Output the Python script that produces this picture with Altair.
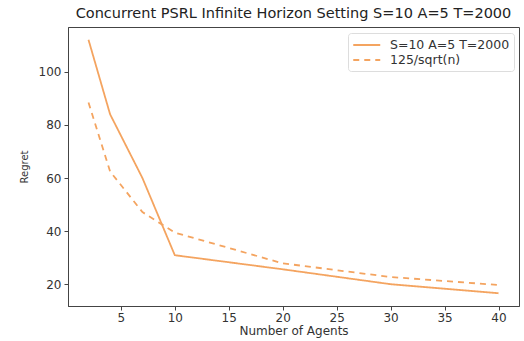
import altair as alt
import pandas as pd

agents = [2, 4, 7, 10, 20, 30, 40]
regret = [112, 84, 60, 31, 25.7, 20.1, 16.7]
bound = [88.4, 62.5, 47.2, 39.5, 27.95, 22.8, 19.8]
series_names = ["S=10 A=5 T=2000", "125/sqrt(n)"]

rows = []
for n, r in zip(agents, regret):
    rows.append({"n": n, "v": r, "s": series_names[0]})
for n, b in zip(agents, bound):
    rows.append({"n": n, "v": b, "s": series_names[1]})
df = pd.DataFrame(rows)

col = "#F4A460"
font = "DejaVu Sans"

chart = alt.Chart(df).mark_line(strokeWidth=1.8).encode(
    x=alt.X("n:Q", scale=alt.Scale(domain=[0.1, 41.9], nice=False, zero=False),
            axis=alt.Axis(values=[5, 10, 15, 20, 25, 30, 35, 40], title="Number of Agents",
                          grid=False, tickSize=4, labelPadding=2, titlePadding=2,
                          titleFontSize=12, labelFontSize=12)),
    y=alt.Y("v:Q", scale=alt.Scale(domain=[11.9, 116.8], nice=False, zero=False),
            axis=alt.Axis(values=[20, 40, 60, 80, 100], title="Regret", grid=False,
                          tickSize=4, labelPadding=3, titlePadding=9,
                          titleFontSize=10, labelFontSize=12)),
    color=alt.Color("s:N", scale=alt.Scale(domain=series_names, range=[col, col]),
                    legend=alt.Legend(title=None)),
    strokeDash=alt.StrokeDash("s:N", scale=alt.Scale(domain=series_names, range=[[1, 0], [6, 5]]),
                              legend=alt.Legend(title=None)),
).properties(
    width=451, height=279,
    title=alt.TitleParams("Concurrent PSRL Infinite Horizon Setting S=10 A=5 T=2000",
                          fontSize=14.5, fontWeight="normal", font=font, color="#222",
                          anchor="middle", offset=6),
    autosize=alt.AutoSizeParams(type="none"),
    padding={"left": 68, "top": 27, "right": 5, "bottom": 35},
).configure_view(
    stroke="#444", strokeWidth=1
).configure_axis(
    labelFont=font, titleFont=font, labelColor="#333", titleColor="#333",
    domainColor="#444", tickColor="#444", titleFontWeight="normal"
).configure_legend(
    orient="none", legendX=280, legendY=6, labelFont=font, labelFontSize=12.5,
    labelColor="#333", symbolType="M-1,0H3", symbolSize=182, symbolStrokeWidth=1.8,
    strokeColor="#ddd", fillColor="white", padding=4, cornerRadius=3, rowPadding=0,
    labelOffset=22, labelLimit=300
)

chart.save("out.html", embed_options={"renderer": "svg", "actions": False})
